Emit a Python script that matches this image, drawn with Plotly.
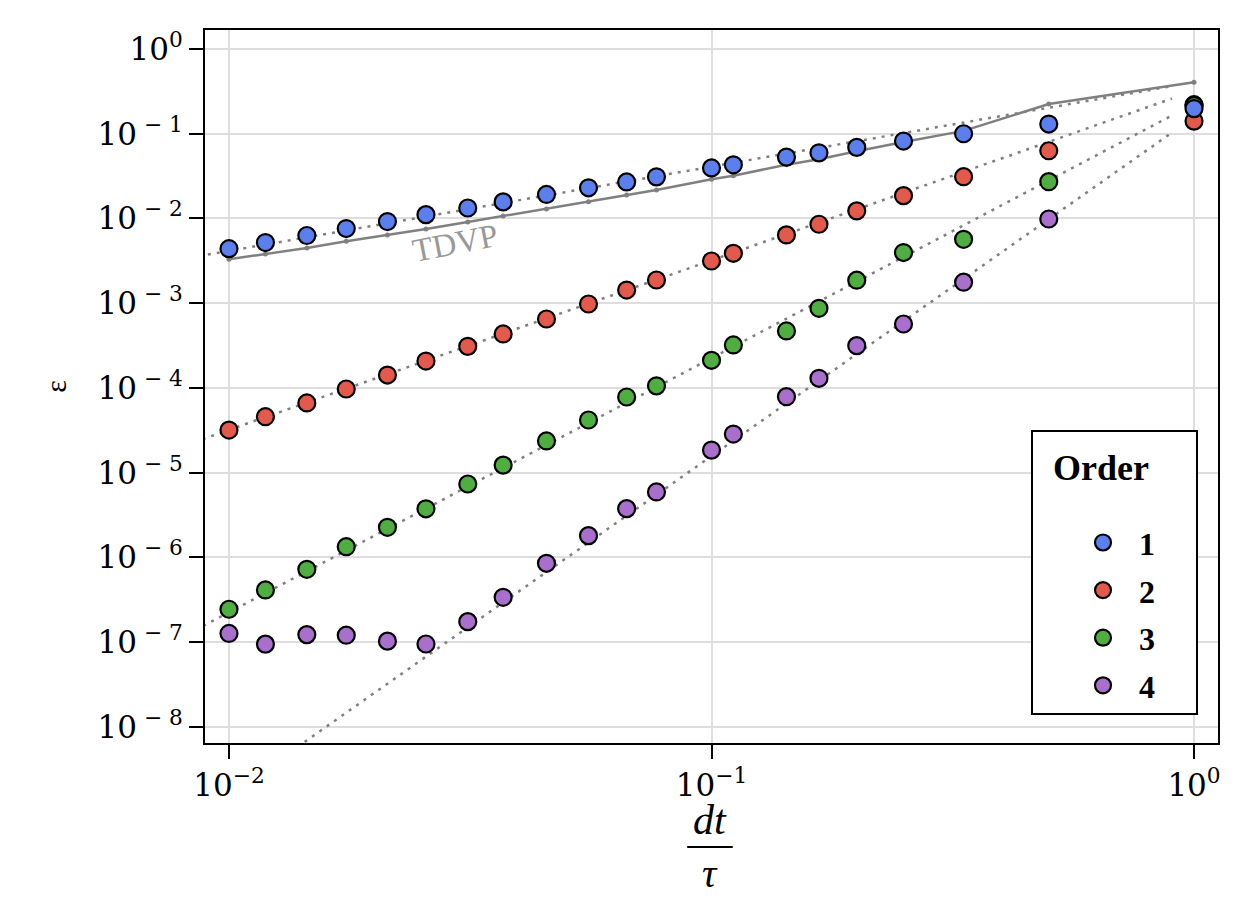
import plotly.graph_objects as go

# dt / tau values (x)
dt = [0.01, 0.0119, 0.0145, 0.0175, 0.0213, 0.0256, 0.03125, 0.037, 0.0455, 0.0556,
      0.0667, 0.0769, 0.1, 0.111, 0.143, 0.167, 0.2, 0.25, 0.333, 0.5, 1.0]

order1 = [4.4e-3, 5.2e-3, 6.3e-3, 7.6e-3, 9.2e-3, 1.11e-2, 1.33e-2, 1.57e-2, 1.92e-2, 2.3e-2,
          2.7e-2, 3.1e-2, 3.95e-2, 4.3e-2, 5.3e-2, 5.95e-2, 6.9e-2, 8.2e-2, 0.100, 0.130, 0.198]
order2 = [3.19e-5, 4.58e-5, 6.66e-5, 9.73e-5, 1.42e-4, 2.08e-4, 3.10e-4, 4.34e-4, 6.52e-4, 9.8e-4,
          1.43e-3, 1.88e-3, 3.15e-3, 3.88e-3, 6.4e-3, 8.55e-3, 1.23e-2, 1.86e-2, 3.11e-2, 6.3e-2, 0.141]
order3 = [2.45e-7, 4.14e-7, 7.25e-7, 1.34e-6, 2.27e-6, 3.75e-6, 7.36e-6, 1.23e-5, 2.37e-5, 4.19e-5,
          7.83e-5, 1.06e-4, 2.12e-4, 3.22e-4, 4.71e-4, 8.71e-4, 1.87e-3, 3.96e-3, 5.68e-3, 2.72e-2, 0.215]
order4 = [1.27e-7, 9.5e-8, 1.23e-7, 1.21e-7, 1.03e-7, 9.53e-8, 1.75e-7, 3.39e-7, 8.53e-7, 1.81e-6,
          3.77e-6, 5.93e-6, 1.85e-5, 2.86e-5, 7.9e-5, 1.3e-4, 3.16e-4, 5.69e-4, 1.77e-3, 9.86e-3, 0.22]
tdvp = [3.3e-3, 3.81e-3, 4.49e-3, 5.38e-3, 6.38e-3, 7.52e-3, 9.09e-3, 1.07e-2, 1.29e-2, 1.58e-2,
        1.89e-2, 2.17e-2, 2.9e-2, 3.2e-2, 4.3e-2, 5.0e-2, 6.2e-2, 7.98e-2, 0.108, 0.224, 0.405]

# power-law fit guide lines (dotted)
fit_x = [0.005, 0.9]
fit1 = [2.08e-3, 0.364]
fit2 = [8.0e-6, 0.26]
fit3 = [2.82e-8, 0.164]
fit4 = [9.84e-11, 0.103]

# tick labels
x_tickvals = [0.01, 0.1, 1.0]
x_ticktext = ["10<sup>−2</sup>", "10<sup>−1</sup>", "10<sup>0</sup>"]
y_tickvals = [1.0, 1e-1, 1e-2, 1e-3, 1e-4, 1e-5, 1e-6, 1e-7, 1e-8]
y_ticktext = ["10<sup>0</sup>", "10<sup> − 1</sup>", "10<sup> − 2</sup>", "10<sup> − 3</sup>",
              "10<sup> − 4</sup>", "10<sup> − 5</sup>", "10<sup> − 6</sup>", "10<sup> − 7</sup>",
              "10<sup> − 8</sup>"]

order_names = ["1", "2", "3", "4"]
colors = ["#5b80ee", "#e35a4c", "#4eaf40", "#a86fcc"]
series = [order1, order2, order3, order4]
fits = [fit1, fit2, fit3, fit4]

FONT = "Liberation Serif"
TICKFONT = "DejaVu Serif"
GRAY = "#808080"

fig = go.Figure()

for f in fits:
    fig.add_trace(go.Scatter(x=fit_x, y=f, mode="lines", showlegend=False,
                             line=dict(color=GRAY, width=2.5, dash="3px,6px"),
                             hoverinfo="skip"))

fig.add_trace(go.Scatter(x=dt, y=tdvp, mode="lines+markers", showlegend=False,
                         line=dict(color=GRAY, width=2.5),
                         marker=dict(color=GRAY, size=5)))

for i in [3, 2, 1, 0]:
    fig.add_trace(go.Scatter(
        x=dt, y=series[i], mode="markers",
        name="<b>&nbsp;&nbsp;" + order_names[i] + "</b>",
        legendrank=i + 1, legendgroup=order_names[i],
        marker=dict(color=colors[i], size=17, line=dict(color="black", width=2.2))))

fig.add_annotation(x=-1.5316, y=-2.289, xref="x", yref="y", text="TDVP", showarrow=False,
                   textangle=-11, font=dict(family=FONT, size=33, color="#999999"))

# x-axis title as fraction dt / tau
fig.add_annotation(x=0.4985, y=-0.108, xref="paper", yref="paper", text="<i>dt</i>",
                   showarrow=False, font=dict(family=FONT, size=42, color="black"),
                   yanchor="middle")
fig.add_annotation(x=0.4985, y=-0.183, xref="paper", yref="paper", text="<i>τ</i>",
                   showarrow=False, font=dict(family=FONT, size=40, color="black"),
                   yanchor="middle")
fig.add_shape(type="line", xref="paper", yref="paper", x0=0.476, x1=0.521,
              y0=-0.146, y1=-0.146, line=dict(color="black", width=2))

fig.update_xaxes(type="log", range=[-2.0497, 0.0497], showline=True, mirror=True,
                 linecolor="black", linewidth=2, ticks="outside", ticklen=14, tickwidth=2,
                 tickcolor="black", tickvals=x_tickvals, ticktext=x_ticktext,
                 showgrid=True, gridcolor="#dedede", gridwidth=2, zeroline=False,
                 tickfont=dict(family=TICKFONT, size=31, color="black"))
fig.update_yaxes(type="log", range=[-8.189, 0.224], showline=True, mirror=True,
                 linecolor="black", linewidth=2, ticks="outside", ticklen=14, tickwidth=2,
                 tickcolor="black", tickvals=y_tickvals, ticktext=y_ticktext,
                 showgrid=True, gridcolor="#dedede", gridwidth=2, zeroline=False,
                 tickfont=dict(family=TICKFONT, size=31, color="black"),
                 title=dict(text="ε", font=dict(family=FONT, size=30, color="black"),
                            standoff=22))

fig.update_layout(
    width=1250, height=901,
    margin=dict(l=205, r=32, t=30, b=158, autoexpand=False),
    plot_bgcolor="white", paper_bgcolor="white",
    font=dict(family=FONT, color="black"),
    legend=dict(x=0.8154, y=0.439, xanchor="left", yanchor="top",
                bordercolor="black", borderwidth=2, bgcolor="white",
                font=dict(family=FONT, size=32, color="black"),
                title=dict(text="<sub><span style='font-size:36px'><b>&nbsp;&nbsp;Order</b>"
                                + "&nbsp;" * 5 + "</span></sub><br>&nbsp;",
                           side="top",
                           font=dict(family=FONT, size=32, color="black")),
                tracegroupgap=3, indentation=50,
                traceorder="grouped"),
)

fig.write_html("out.html")
